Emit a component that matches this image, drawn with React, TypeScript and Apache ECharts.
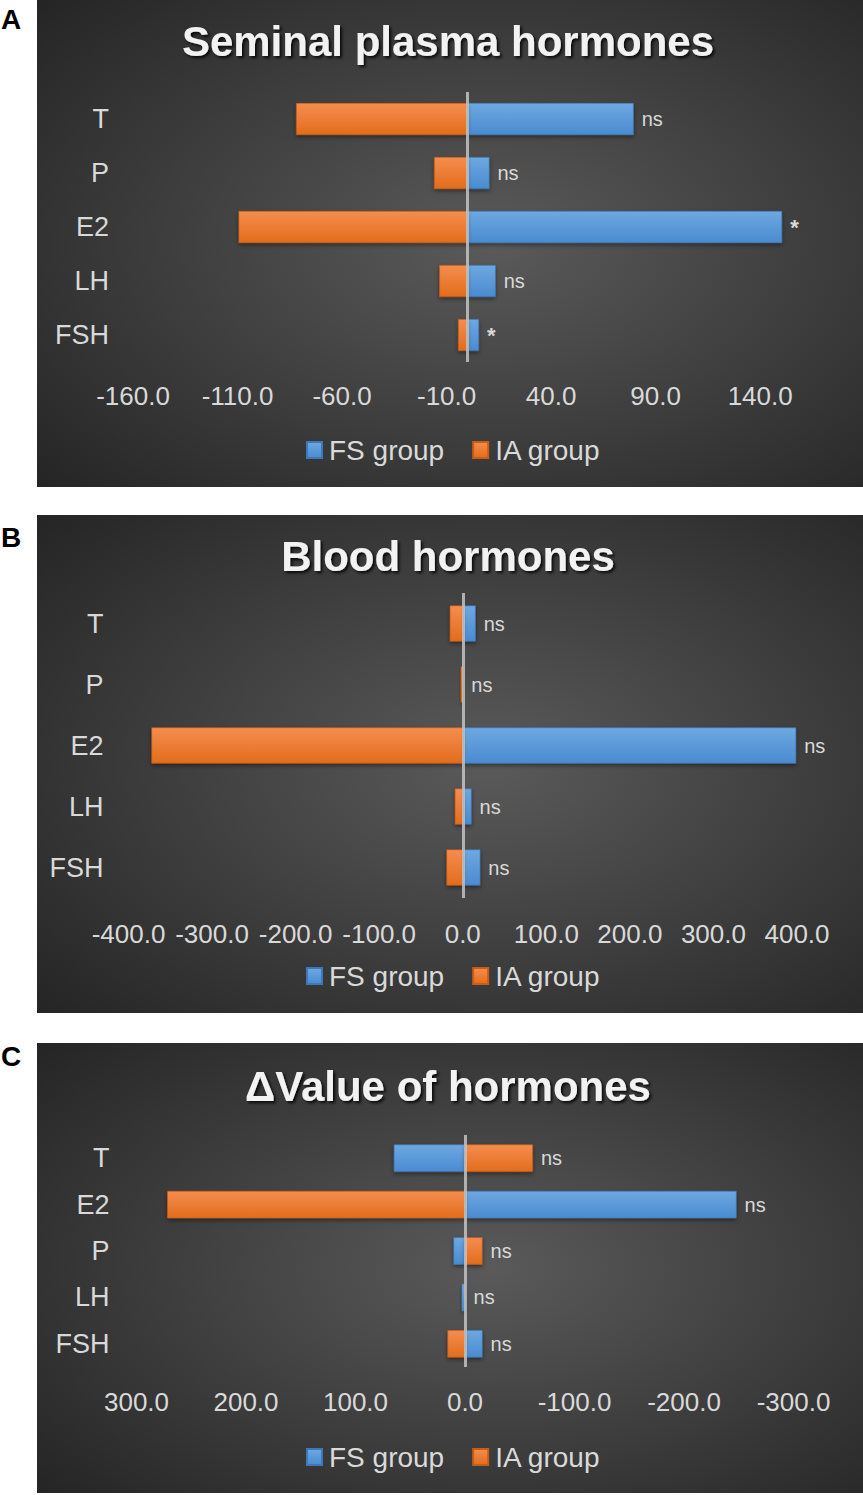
import React, { useEffect, useRef } from "react";
import * as echarts from "echarts";

// ---------- data ----------
const seriesNames = ["FS group", "IA group"];
const titles = ["Seminal plasma hormones", "Blood hormones", "\u0394Value of hormones"];
const panelLetters = ["A", "B", "C"];

const categoriesA = ["T", "P", "E2", "LH", "FSH"];
const fsA = [79.5, 10.5, 150.5, 13.5, 5.5];
const iaA = [-82, -16, -109.5, -13.5, -4.5];
const sigA = ["ns", "ns", "*", "ns", "*"];
const ticksA = [-160, -110, -60, -10, 40, 90, 140];

const categoriesB = ["T", "P", "E2", "LH", "FSH"];
const fsB = [15.5, 0.5, 399, 10.5, 21];
const iaB = [-15.5, -2.5, -372.5, -9.5, -19.5];
const sigB = ["ns", "ns", "ns", "ns", "ns"];
const ticksB = [-400, -300, -200, -100, 0, 100, 200, 300, 400];

const categoriesC = ["T", "E2", "P", "LH", "FSH"];
const fsC = [65, -248, 10.5, 3, -16];
const iaC = [-62, 272, -16, -0.5, 16];
const sigC = ["ns", "ns", "ns", "ns", "ns"];
const ticksC = [-300, -200, -100, 0, 100, 200, 300];

// ---------- layout ----------
const FONT = "Liberation Sans, Arial, sans-serif";
const LABEL_COLOR = "#d9d9d9";

const panels = [
  {
    cats: categoriesA, fs: fsA, ia: iaA, sig: sigA, ticks: ticksA,
    min: -160, max: 160, inverse: false,
    box: { x: 37, y: 0, w: 826, h: 487 },
    grid: { left: 133, top: 92, width: 669, height: 270 },
    titleY: 41, letterY: 19, legendTop: 431, xMargin: 21, yMargin: 24,
  },
  {
    cats: categoriesB, fs: fsB, ia: iaB, sig: sigB, ticks: ticksB,
    min: -400, max: 400, inverse: false,
    box: { x: 37, y: 515, w: 826, h: 498 },
    grid: { left: 128.5, top: 593, width: 668.5, height: 305 },
    titleY: 556, letterY: 537, legendTop: 957, xMargin: 23, yMargin: 25,
  },
  {
    cats: categoriesC, fs: fsC, ia: iaC, sig: sigC, ticks: ticksC,
    min: -300, max: 300, inverse: true,
    box: { x: 37, y: 1043, w: 826, h: 450 },
    grid: { left: 136.5, top: 1135, width: 657, height: 232 },
    titleY: 1086, letterY: 1056, legendTop: 1438, xMargin: 22, yMargin: 27,
  },
];

const blueFill = new echarts.graphic.LinearGradient(0, 0, 0, 1, [
  { offset: 0, color: "#6ea8e1" },
  { offset: 1, color: "#4a8bd0" },
]);
const orangeFill = new echarts.graphic.LinearGradient(0, 0, 0, 1, [
  { offset: 0, color: "#f58d4f" },
  { offset: 1, color: "#e36c1c" },
]);

function buildOption() {
  const grid: any[] = [];
  const xAxis: any[] = [];
  const yAxis: any[] = [];
  const series: any[] = [];
  const legend: any[] = [];
  const graphic: any[] = [];

  panels.forEach((p, k) => {
    grid.push({ ...p.grid, containLabel: false });
    xAxis.push({
      gridIndex: k,
      type: "value",
      min: p.min,
      max: p.max,
      inverse: p.inverse,
      splitLine: { show: false },
      axisLine: { show: false },
      axisTick: { show: false },
      axisLabel: {
        customValues: p.ticks,
        color: LABEL_COLOR,
        fontSize: 26,
        fontFamily: FONT,
        margin: p.xMargin,
        formatter: (v: number) => v.toFixed(1),
      },
    });
    yAxis.push({
      gridIndex: k,
      type: "category",
      data: p.cats,
      inverse: true,
      axisLine: { show: false, onZero: false },
      axisTick: { show: false },
      splitLine: { show: false },
      axisLabel: { color: LABEL_COLOR, fontSize: 27, fontFamily: FONT, margin: p.yMargin },
    });

    // which series carries the significance label (the bar reaching furthest right)
    const host = p.cats.map((_, i) =>
      p.inverse ? (p.fs[i] <= p.ia[i] ? 0 : 1) : (p.fs[i] >= p.ia[i] ? 0 : 1)
    );

    [p.fs, p.ia].forEach((vals, s) => {
      series.push({
        name: seriesNames[s],
        type: "bar",
        xAxisIndex: k,
        yAxisIndex: k,
        barWidth: "59%",
        barGap: "-100%",
        itemStyle: {
          color: s === 0 ? blueFill : orangeFill,
          borderColor: s === 0 ? "#3f78b8" : "#c85d17",
          borderWidth: 0.6,
          shadowColor: "rgba(0,0,0,0.45)",
          shadowBlur: 4,
          shadowOffsetY: 2,
        },
        data: vals.map((v, i) => ({
          value: v,
          label: {
            show: host[i] === s,
            position: "right",
            distance: 8,
            formatter: p.sig[i],
            color: LABEL_COLOR,
            fontSize: p.sig[i] === "*" ? 22 : 20,
            fontWeight: p.sig[i] === "*" ? "bold" : "normal",
            fontFamily: FONT,
          },
        })),
      });
    });

    series.push({
      name: "zero" + k,
      type: "line",
      xAxisIndex: k,
      yAxisIndex: k,
      data: [],
      z: 10,
      silent: true,
      markLine: {
        silent: true,
        symbol: ["none", "none"],
        label: { show: false },
        lineStyle: { color: "rgba(195,195,195,0.85)", width: 3, type: "solid" },
        data: [{ xAxis: 0 }],
      },
    });

    legend.push({
      data: seriesNames,
      left: 301,
      top: p.legendTop,
      icon: "rect",
      itemWidth: 15,
      itemHeight: 16,
      itemGap: 28,
      selectedMode: false,
      textStyle: { color: LABEL_COLOR, fontSize: 28, fontFamily: FONT, padding: [0, 0, 0, 2] },
    });

    graphic.push({
      type: "rect",
      z: -10,
      silent: true,
      shape: { x: p.box.x, y: p.box.y, width: p.box.w, height: p.box.h },
      style: {
        fill: {
          type: "radial",
          x: 0.55,
          y: 0.5,
          r: 0.75,
          colorStops: [
            { offset: 0, color: "#5a5a5a" },
            { offset: 1, color: "#242424" },
          ],
        },
      },
    });
    graphic.push({
      type: "text",
      z: 5,
      silent: true,
      x: 448,
      y: p.titleY,
      style: {
        text: titles[k],
        fill: "#f2f2f2",
        font: "bold 42px " + FONT,
        align: "center",
        verticalAlign: "middle",
        textShadowColor: "rgba(0,0,0,0.85)",
        textShadowBlur: 3,
        textShadowOffsetX: 2,
        textShadowOffsetY: 2,
      },
    });
    graphic.push({
      type: "text",
      silent: true,
      x: 1,
      y: p.letterY,
      style: {
        text: panelLetters[k],
        fill: "#000",
        font: "bold 28px " + FONT,
        align: "left",
        verticalAlign: "middle",
      },
    });
  });

  return {
    animation: false,
    backgroundColor: "#ffffff",
    grid,
    xAxis,
    yAxis,
    legend,
    series,
    graphic,
  };
}

export default function App() {
  const ref = useRef<HTMLDivElement>(null);
  useEffect(() => {
    if (!ref.current) return;
    const chart = echarts.init(ref.current, undefined, { renderer: "svg" });
    chart.setOption(buildOption() as any);
    return () => chart.dispose();
  }, []);
  return (
    <div
      ref={ref}
      style={{ position: "absolute", left: 0, top: 0, width: 863, height: 1495 }}
    />
  );
}
